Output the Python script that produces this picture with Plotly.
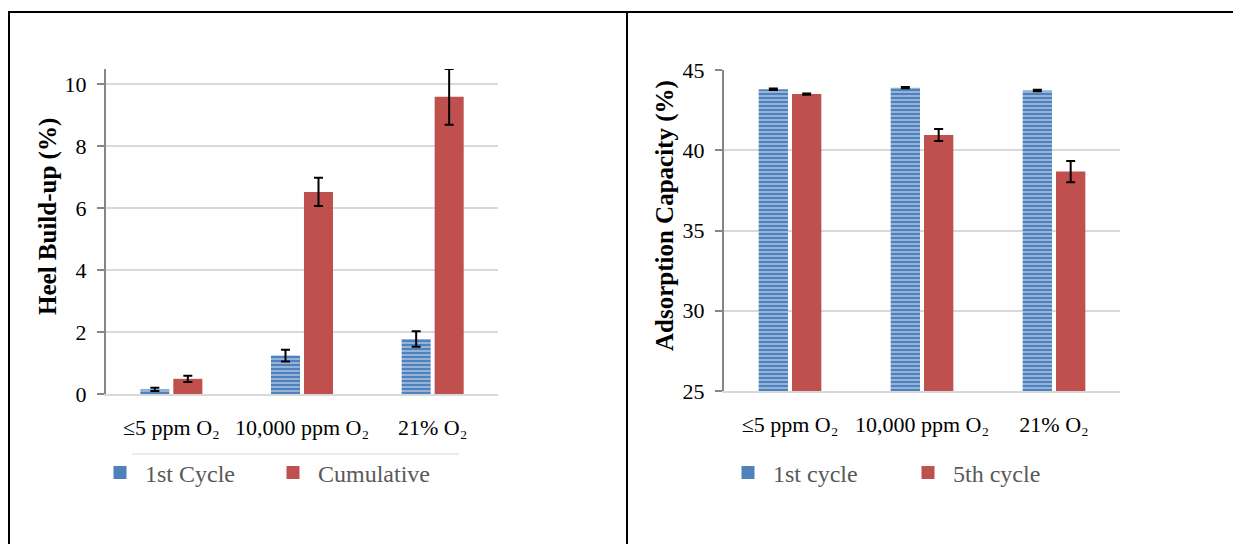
import plotly.graph_objects as go

W, H = 1233, 544

categories = ["≤5 ppm O₂", "10,000 ppm O₂", "21% O₂"]

heel_first = [0.15, 1.24, 1.78]
heel_first_err = [0.05, 0.19, 0.25]
heel_cum = [0.49, 6.53, 9.6]
heel_cum_err = [0.1, 0.46, 0.9]

ads_first = [43.8, 43.9, 43.72]
ads_first_err = [0.05, 0.04, 0.05]
ads_fifth = [43.5, 40.95, 38.67]
ads_fifth_err = [0.04, 0.37, 0.66]

BLUE = "#4f81bd"
RED = "#c0504d"
SERIF = "Liberation Serif"

def px_x(x):
    return x / W

def px_y(y):
    return 1 - y / H

pattern = dict(shape="-", fgcolor="white", bgcolor=BLUE, size=4, solidity=0.4)
err_style = dict(type="data", color="black", thickness=2, width=4.5)

fig = go.Figure()

# Left chart
fig.add_trace(go.Bar(x=categories, y=heel_first, xaxis="x", yaxis="y",
                     marker=dict(color=BLUE, pattern=pattern, line=dict(width=0)),
                     error_y=dict(array=heel_first_err, **err_style), showlegend=False))
fig.add_trace(go.Bar(x=categories, y=heel_cum, xaxis="x", yaxis="y",
                     marker=dict(color=RED, line=dict(width=0)),
                     error_y=dict(array=heel_cum_err, **err_style), showlegend=False))
# Right chart
fig.add_trace(go.Bar(x=categories, y=ads_first, xaxis="x2", yaxis="y2",
                     marker=dict(color=BLUE, pattern=pattern, line=dict(width=0)),
                     error_y=dict(array=ads_first_err, **err_style), showlegend=False))
fig.add_trace(go.Bar(x=categories, y=ads_fifth, xaxis="x2", yaxis="y2",
                     marker=dict(color=RED, line=dict(width=0)),
                     error_y=dict(array=ads_fifth_err, **err_style), showlegend=False))

# Legend entries (solid swatches)
legend_items = [
    ("1st Cycle", BLUE, "legend", "x", "y"),
    ("Cumulative", RED, "legend2", "x", "y"),
    ("1st cycle", BLUE, "legend3", "x2", "y2"),
    ("5th cycle", RED, "legend4", "x2", "y2"),
]
for name, col, lg, xa, ya in legend_items:
    fig.add_trace(go.Scatter(x=[None], y=[None], mode="markers", name=name,
                             xaxis=xa, yaxis=ya, legend=lg,
                             marker=dict(symbol="square", size=13, color=col)))

legend_common = dict(orientation="h", yanchor="middle", xanchor="left",
                     bgcolor="rgba(0,0,0,0)", borderwidth=0, itemwidth=40,
                     font=dict(family=SERIF, size=24, color="#595959"))
legend_x_px = [95, 268, 723, 903]

yaxis_common = dict(showgrid=True, gridcolor="#d9d9d9", gridwidth=2,
                    showline=True, linecolor="#868686", linewidth=2,
                    ticks="outside", ticklen=7, tickcolor="#868686", tickwidth=2,
                    tickfont=dict(family=SERIF, size=22, color="black"),
                    ticklabelstandoff=6, zeroline=False, automargin=False)
xaxis_common = dict(showline=True, linecolor="#d9d9d9", linewidth=2, ticks="",
                    showgrid=False, automargin=False,
                    tickfont=dict(family=SERIF, size=22, color="black"),
                    ticklabelstandoff=13)

frame = dict(type="line", xref="paper", yref="paper", line=dict(color="black", width=2))

fig.update_layout(
    width=W, height=H, margin=dict(l=0, r=0, t=0, b=0, pad=0, autoexpand=False),
    paper_bgcolor="white", plot_bgcolor="white",
    barmode="group", bargap=0.495, bargroupgap=0.12,
    xaxis=dict(domain=[px_x(106), px_x(498)], anchor="y", **xaxis_common),
    yaxis=dict(domain=[px_y(394), px_y(69)], anchor="x", range=[0, 10.5],
               tickvals=[0, 2, 4, 6, 8, 10], **yaxis_common),
    xaxis2=dict(domain=[px_x(724), px_x(1120)], anchor="y2", **xaxis_common),
    yaxis2=dict(domain=[px_y(391), px_y(70)], anchor="x2", range=[25, 45],
                tickvals=[25, 30, 35, 40, 45], **yaxis_common),
    legend=dict(x=px_x(legend_x_px[0]), y=px_y(473), **legend_common),
    legend2=dict(x=px_x(legend_x_px[1]), y=px_y(473), **legend_common),
    legend3=dict(x=px_x(legend_x_px[2]), y=px_y(473), **legend_common),
    legend4=dict(x=px_x(legend_x_px[3]), y=px_y(473), **legend_common),
    annotations=[
        dict(text="Heel Build-up (%)", x=px_x(48), y=px_y(217), xref="paper", yref="paper",
             textangle=-90, showarrow=False, xanchor="center", yanchor="middle",
             font=dict(family=SERIF, size=25, color="black", weight="bold")),
        dict(text="Adsorption Capacity (%)", x=px_x(665), y=px_y(216), xref="paper", yref="paper",
             textangle=-90, showarrow=False, xanchor="center", yanchor="middle",
             font=dict(family=SERIF, size=25, color="black", weight="bold")),
    ],
    shapes=[
        dict(frame, x0=px_x(8), x1=1, y0=px_y(12), y1=px_y(12)),
        dict(frame, x0=px_x(9), x1=px_x(9), y0=0, y1=px_y(12)),
        dict(frame, x0=px_x(627), x1=px_x(627), y0=0, y1=px_y(12)),
        dict(type="line", xref="paper", yref="paper", x0=px_x(132), x1=px_x(459),
             y0=px_y(454), y1=px_y(454), line=dict(color="#d9d9d9", width=1)),
    ],
)

fig.write_html("out.html")
